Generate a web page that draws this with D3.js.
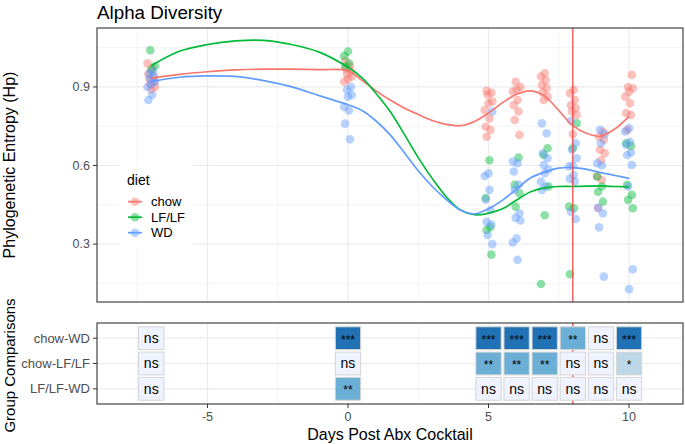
<!DOCTYPE html>
<html><head><meta charset="utf-8">
<script src="https://cdn.jsdelivr.net/npm/d3@7"></script>
<style>body{margin:0;background:#fff}svg{display:block;font-family:"Liberation Sans",Arial,Helvetica,sans-serif}</style>
</head><body><svg id="c" width="685" height="444"></svg>
<script>
const diets = ["chow","LF/LF","WD"];
const dietColors = ["#F8766D","#00BA38","#619CFF"];
const pointDays = [-7,0,5,6,7,8,9,10];
const chowPoints = [
 [0.99,0.97,0.95,0.94,0.93,0.92,0.91,0.90,0.89],
 [1.0,0.98,0.97,0.96,0.95,0.94,0.93,0.92],
 [0.885,0.878,0.87,0.845,0.838,0.812,0.78,0.748,0.736,0.71],
 [0.92,0.90,0.89,0.882,0.85,0.83,0.806,0.774,0.717],
 [0.952,0.94,0.925,0.908,0.895,0.88,0.863,0.85],
 [0.889,0.876,0.85,0.83,0.819,0.806,0.793,0.72],
 [0.73,0.71,0.698,0.66,0.647,0.62,0.558,0.545,0.437],
 [0.946,0.90,0.895,0.882,0.863,0.838,0.80,0.793,0.736]
];
const lflfPoints = [
 [1.04,0.98,0.965],
 [1.035,1.018,0.99,0.977],
 [0.62,0.476,0.365,0.354,0.26],
 [0.63,0.526,0.494,0.443],
 [0.666,0.64,0.52,0.41,0.148],
 [0.761,0.666,0.443,0.437,0.185],
 [0.558,0.52,0.50,0.462],
 [0.685,0.675,0.526,0.488,0.469,0.437]
];
const wdPoints = [
 [0.96,0.95,0.94,0.93,0.92,0.91,0.90,0.87,0.85],
 [0.90,0.889,0.869,0.863,0.824,0.81,0.76,0.70],
 [0.806,0.57,0.56,0.507,0.47,0.43,0.385,0.375,0.335,0.30],
 [0.615,0.609,0.577,0.526,0.507,0.418,0.40,0.39,0.322,0.306,0.24],
 [0.761,0.723,0.647,0.628,0.602,0.585,0.571,0.539,0.52,0.507],
 [0.771,0.685,0.66,0.628,0.60,0.596,0.564,0.55,0.539,0.424,0.396],
 [0.736,0.72,0.685,0.609,0.60,0.44,0.418,0.364,0.176],
 [0.742,0.73,0.69,0.679,0.65,0.64,0.602,0.52,0.204,0.128]
];
const smoothDays = [-7,-6,-5,-4,-3,-2,-1,0,0.5,1,1.5,2,2.5,3,3.5,4,4.5,5,5.5,6,6.5,7,7.5,8,8.5,9,9.5,10];
const chowSmooth = [0.933,0.948,0.958,0.965,0.968,0.968,0.966,0.962,0.925,0.885,0.85,0.82,0.795,0.772,0.757,0.752,0.768,0.80,0.84,0.872,0.885,0.865,0.81,0.752,0.722,0.712,0.74,0.788];
const lflfSmooth = [0.981,1.036,1.062,1.076,1.078,1.062,1.032,0.975,0.935,0.875,0.806,0.72,0.63,0.55,0.48,0.43,0.412,0.418,0.435,0.468,0.50,0.515,0.52,0.52,0.521,0.522,0.52,0.518];
const wdSmooth = [0.92,0.937,0.942,0.94,0.924,0.90,0.866,0.832,0.81,0.77,0.717,0.65,0.58,0.52,0.47,0.43,0.415,0.435,0.468,0.51,0.553,0.575,0.59,0.592,0.585,0.573,0.562,0.551];
const abxLineDay = 8;
const comparisons = ["chow-WD","chow-LF/LF","LF/LF-WD"];
const tileDays = [-7,0,5,6,7,8,9,10];
const sigChowWD = ["ns","***","***","***","***","**","ns","***"];
const sigChowLFLF = ["ns","ns","**","**","**","ns","ns","*"];
const sigLFLFWD = ["ns","**","ns","ns","ns","ns","ns","ns"];
const sigLevels = ["ns","*","**","***"];
const sigColors = ["#EFF3FF","#BDD7E7","#6BAED6","#2171B5"];
const yTicks = [0.3,0.6,0.9];
const yMinor = [0.15,0.45,0.75,1.05];
const xTicks = [-5,0,5,10];
const xMinor = [-7.5,-2.5,2.5,7.5];

const svg = d3.select("#c");
const L = 97, R = 683, T1 = 28, B1 = 302, T2 = 323, B2 = 404;
const x = d3.scaleLinear().domain([-8.93, 11.92]).range([L, R]);
const y = d3.scaleLinear().domain([0.079, 1.125]).range([B1, T1]);
const yc = d3.scalePoint().domain(comparisons).range([T2, B2]).padding(0.6);
const color = d3.scaleOrdinal().domain(diets).range(dietColors);
const sigColor = d3.scaleOrdinal().domain(sigLevels).range(sigColors);
const grid = "#ebebeb";

// title
svg.append("text").attr("x", L).attr("y", 19).attr("font-size", 18.8).attr("fill", "#000").text("Alpha Diversity");

// top panel
const topG = svg.append("g");
topG.append("rect").attr("x", L).attr("y", T1).attr("width", R - L).attr("height", B1 - T1).attr("fill", "#fff");
topG.selectAll(".ymin").data(yMinor).join("line").attr("x1", L).attr("x2", R).attr("y1", d => y(d)).attr("y2", d => y(d)).attr("stroke", grid).attr("stroke-width", 0.6);
topG.selectAll(".xmin").data(xMinor).join("line").attr("y1", T1).attr("y2", B1).attr("x1", d => x(d)).attr("x2", d => x(d)).attr("stroke", grid).attr("stroke-width", 0.6);
topG.selectAll(".ymaj").data(yTicks).join("line").attr("x1", L).attr("x2", R).attr("y1", d => y(d)).attr("y2", d => y(d)).attr("stroke", grid).attr("stroke-width", 1.2);
topG.selectAll(".xmaj").data(xTicks).join("line").attr("y1", T1).attr("y2", B1).attr("x1", d => x(d)).attr("x2", d => x(d)).attr("stroke", grid).attr("stroke-width", 1.2);

// points
const allPts = [chowPoints, lflfPoints, wdPoints];
const ptData = [];
allPts.forEach((arr, di) => arr.forEach((vals, k) => vals.forEach((v, i) => {
  ptData.push({diet: diets[di], day: pointDays[k], v, j: (((i * 5 + di * 3 + k) % 9) - 4) * 0.95});
})));
topG.selectAll("circle.pt").data(ptData).join("circle").attr("class", "pt")
  .attr("cx", d => x(d.day) + d.j).attr("cy", d => y(d.v)).attr("r", 4.3)
  .attr("fill", d => color(d.diet)).attr("fill-opacity", 0.45);

// smooth lines
const smooths = [chowSmooth, lflfSmooth, wdSmooth];
const line = d3.line().x(d => x(d[0])).y(d => y(d[1])).curve(d3.curveCatmullRom.alpha(0.5));
smooths.forEach((s, di) => {
  topG.append("path").attr("d", line(smoothDays.map((dd, i) => [dd, s[i]])))
    .attr("fill", "none").attr("stroke", dietColors[di]).attr("stroke-width", 1.7);
});
topG.append("line").attr("x1", x(abxLineDay)).attr("x2", x(abxLineDay)).attr("y1", T1).attr("y2", B1).attr("stroke", "#f04a4a").attr("stroke-width", 1.3);
topG.append("rect").attr("x", L).attr("y", T1).attr("width", R - L).attr("height", B1 - T1).attr("fill", "none").attr("stroke", "#333").attr("stroke-width", 1.1);

// y axis top
const ya = topG.append("g");
yTicks.forEach(t => {
  ya.append("line").attr("x1", L - 4).attr("x2", L).attr("y1", y(t)).attr("y2", y(t)).attr("stroke", "#333");
  ya.append("text").attr("x", L - 7).attr("y", y(t)).attr("dy", "0.35em").attr("text-anchor", "end").attr("font-size", 12.5).attr("fill", "#4d4d4d").text(t.toFixed(1));
});
svg.append("text").attr("transform", `translate(15,${(T1 + B1) / 2}) rotate(-90)`).attr("text-anchor", "middle").attr("font-size", 16).attr("fill", "#000").text("Phylogenetic Entropy (Hp)");

// legend
const lg = svg.append("g");
lg.append("rect").attr("x", 119).attr("y", 165).attr("width", 74).attr("height", 83).attr("fill", "#fff");
lg.append("text").attr("x", 127).attr("y", 185).attr("font-size", 14).attr("fill", "#000").text("diet");
diets.forEach((d, i) => {
  const cy = 201.7 + i * 15.5;
  lg.append("circle").attr("cx", 135).attr("cy", cy).attr("r", 4.3).attr("fill", dietColors[i]).attr("fill-opacity", 0.45);
  lg.append("line").attr("x1", 128).attr("x2", 142).attr("y1", cy).attr("y2", cy).attr("stroke", dietColors[i]).attr("stroke-width", 1.7);
  lg.append("text").attr("x", 151).attr("y", cy).attr("dy", "0.35em").attr("font-size", 13).attr("fill", "#000").text(d);
});

// bottom panel
const bot = svg.append("g");
bot.append("rect").attr("x", L).attr("y", T2).attr("width", R - L).attr("height", B2 - T2).attr("fill", "#fff");
bot.selectAll(".xmin").data(xMinor).join("line").attr("y1", T2).attr("y2", B2).attr("x1", d => x(d)).attr("x2", d => x(d)).attr("stroke", grid).attr("stroke-width", 0.6);
bot.selectAll(".xmaj").data(xTicks).join("line").attr("y1", T2).attr("y2", B2).attr("x1", d => x(d)).attr("x2", d => x(d)).attr("stroke", grid).attr("stroke-width", 1.2);
bot.selectAll(".ymaj").data(comparisons).join("line").attr("x1", L).attr("x2", R).attr("y1", d => yc(d)).attr("y2", d => yc(d)).attr("stroke", grid).attr("stroke-width", 1.2);
bot.append("line").attr("x1", x(abxLineDay)).attr("x2", x(abxLineDay)).attr("y1", T2).attr("y2", B2).attr("stroke", "#f04a4a").attr("stroke-width", 1.3);

const sigs = [sigChowWD, sigChowLFLF, sigLFLFWD];
const tiles = [];
sigs.forEach((row, ri) => row.forEach((s, k) => tiles.push({comp: comparisons[ri], day: tileDays[k], s})));
const tw = x(0.45) - x(-0.45), th = yc.step() * 0.9;
const tg = bot.selectAll("g.tile").data(tiles).join("g").attr("class", "tile");
tg.append("rect").attr("x", d => x(d.day) - tw / 2).attr("y", d => yc(d.comp) - th / 2).attr("width", tw).attr("height", th)
  .attr("fill", d => sigColor(d.s)).attr("stroke", "#d4d4d4").attr("stroke-width", 1);
tg.append("text").attr("x", d => x(d.day)).attr("y", d => yc(d.comp)).attr("dy", d => d.s === "ns" ? "0.35em" : "0.45em")
  .attr("text-anchor", "middle").attr("font-size", d => d.s === "ns" ? 14 : 12).attr("fill", "#000").text(d => d.s);
bot.append("rect").attr("x", L).attr("y", T2).attr("width", R - L).attr("height", B2 - T2).attr("fill", "none").attr("stroke", "#333").attr("stroke-width", 1.1);

comparisons.forEach(c => {
  bot.append("line").attr("x1", L - 4).attr("x2", L).attr("y1", yc(c)).attr("y2", yc(c)).attr("stroke", "#333");
  bot.append("text").attr("x", L - 7).attr("y", yc(c)).attr("dy", "0.35em").attr("text-anchor", "end").attr("font-size", 13).attr("fill", "#4d4d4d").text(c);
});
xTicks.forEach(t => {
  bot.append("line").attr("x1", x(t)).attr("x2", x(t)).attr("y1", B2).attr("y2", B2 + 4).attr("stroke", "#333");
  bot.append("text").attr("x", x(t)).attr("y", B2 + 17).attr("text-anchor", "middle").attr("font-size", 12.5).attr("fill", "#4d4d4d").text(t);
});
svg.append("text").attr("x", (L + R) / 2).attr("y", 440).attr("text-anchor", "middle").attr("font-size", 16).attr("fill", "#000").text("Days Post Abx Cocktail");
svg.append("text").attr("transform", `translate(15,${(T2 + B2) / 2 + 2}) rotate(-90)`).attr("text-anchor", "middle").attr("font-size", 15).attr("fill", "#000").text("Group Comparisons");
</script></body></html>
